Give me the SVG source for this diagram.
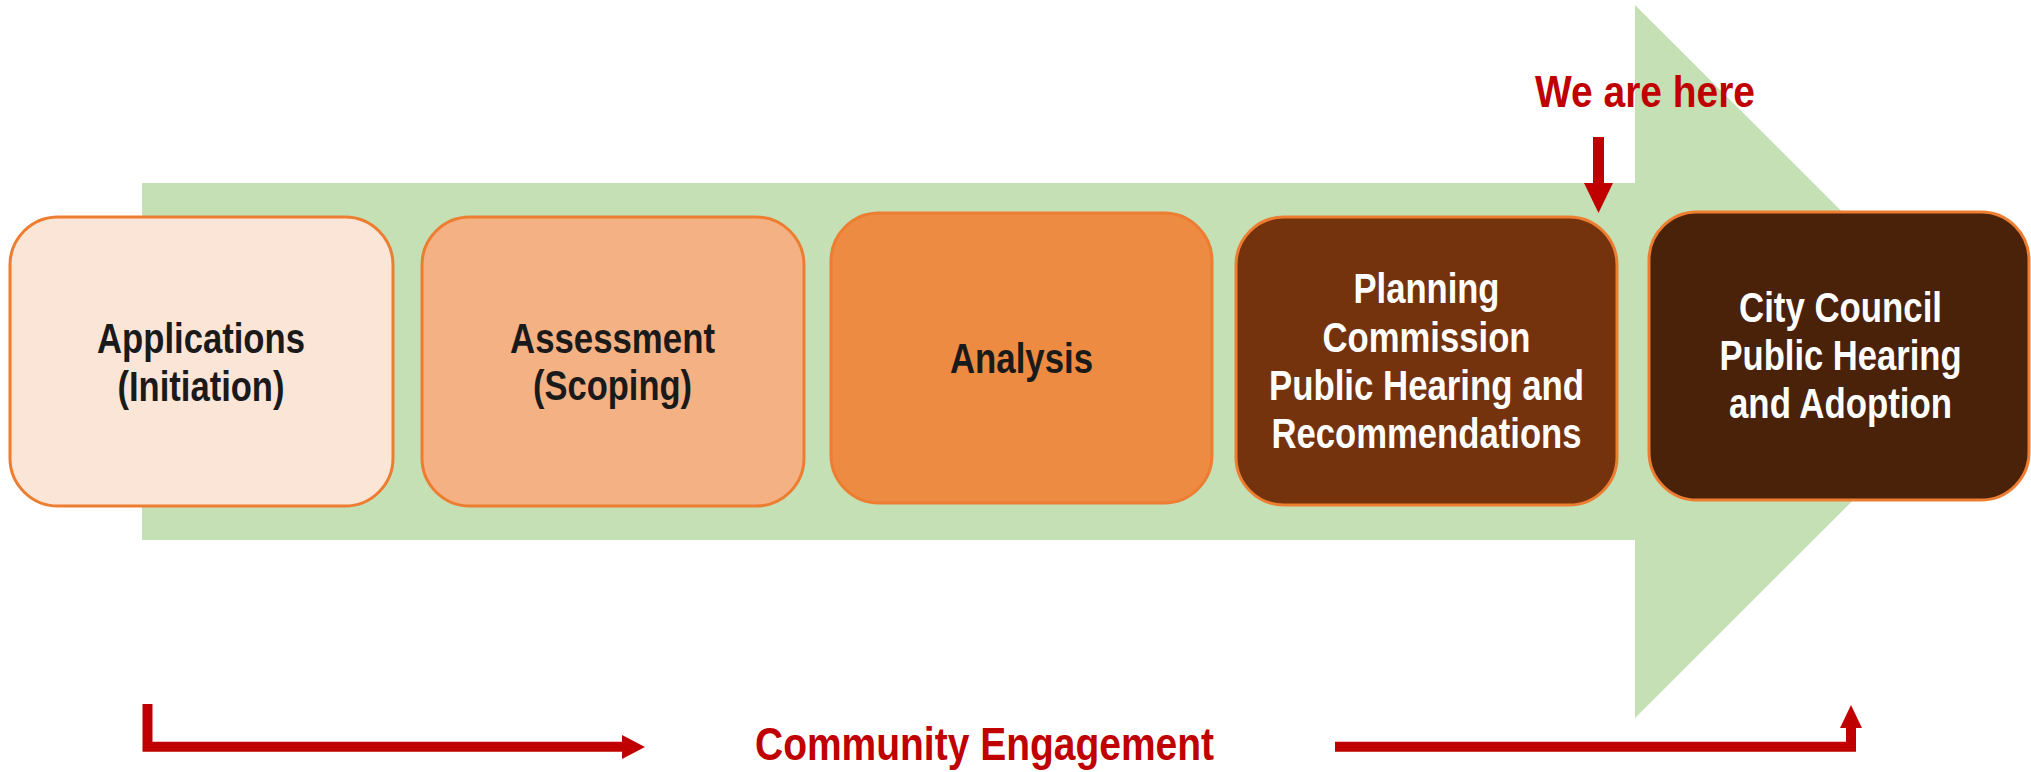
<svg xmlns="http://www.w3.org/2000/svg" width="2031" height="772" viewBox="0 0 2031 772">
  <style>
    .step { stroke: #ED7D31; stroke-width: 3; }
    .lbl { font-family: "Liberation Sans Narrow", "Liberation Sans", Arial, sans-serif; font-weight: bold; font-size: 42px; text-anchor: middle; }
    .dark { fill: #1A1A1A; }
    .light { fill: #FFFFFF; }
    .red { fill: #C00000; font-family: "Liberation Sans Narrow", "Liberation Sans", Arial, sans-serif; font-weight: bold; text-anchor: middle; }
    .flow { fill: none; stroke: #C00000; stroke-width: 10; stroke-linejoin: miter; }
  </style>

  <!-- big background process arrow -->
  <polygon id="process-arrow" points="142,183 1635,183 1635,5 1992,361.5 1635,718 1635,540 142,540" fill="#C5E0B4"/>

  <g id="step-applications">
    <rect class="step" x="10" y="217" width="383" height="289" rx="48" fill="#FBE5D6"/>
    <text class="lbl dark" x="201" y="353" textLength="208" lengthAdjust="spacingAndGlyphs">Applications</text>
    <text class="lbl dark" x="201" y="401" textLength="167" lengthAdjust="spacingAndGlyphs">(Initiation)</text>
  </g>

  <g id="step-assessment">
    <rect class="step" x="422" y="217" width="382" height="289" rx="48" fill="#F4B183"/>
    <text class="lbl dark" x="612.5" y="353" textLength="205" lengthAdjust="spacingAndGlyphs">Assessment</text>
    <text class="lbl dark" x="612.5" y="400" textLength="159" lengthAdjust="spacingAndGlyphs">(Scoping)</text>
  </g>

  <g id="step-analysis">
    <rect class="step" x="831" y="213" width="381" height="290" rx="48" fill="#ED8B43"/>
    <text class="lbl dark" x="1021.5" y="373" textLength="143" lengthAdjust="spacingAndGlyphs">Analysis</text>
  </g>

  <g id="step-planning-commission">
    <rect class="step" x="1236" y="217" width="381" height="288" rx="48" fill="#74330D"/>
    <text class="lbl light" x="1426.5" y="303" textLength="146" lengthAdjust="spacingAndGlyphs">Planning</text>
    <text class="lbl light" x="1426.5" y="352" textLength="208" lengthAdjust="spacingAndGlyphs">Commission</text>
    <text class="lbl light" x="1426.5" y="400" textLength="315" lengthAdjust="spacingAndGlyphs">Public Hearing and</text>
    <text class="lbl light" x="1426.5" y="448" textLength="310" lengthAdjust="spacingAndGlyphs">Recommendations</text>
  </g>

  <g id="step-city-council">
    <rect class="step" x="1649" y="212" width="380" height="288" rx="48" fill="#4A2109"/>
    <text class="lbl light" x="1840.5" y="322" textLength="203" lengthAdjust="spacingAndGlyphs">City Council</text>
    <text class="lbl light" x="1840.5" y="370" textLength="242" lengthAdjust="spacingAndGlyphs">Public Hearing</text>
    <text class="lbl light" x="1840.5" y="418" textLength="223" lengthAdjust="spacingAndGlyphs">and Adoption</text>
  </g>

  <g id="marker-we-are-here">
    <text class="red" x="1645" y="107" font-size="45" textLength="220" lengthAdjust="spacingAndGlyphs">We are here</text>
    <rect x="1593" y="137" width="11" height="47" fill="#C00000"/>
    <polygon points="1584,183 1613,183 1598.5,213" fill="#C00000"/>
  </g>

  <g id="community-engagement">
    <text class="red" x="984.5" y="760" font-size="47" textLength="459" lengthAdjust="spacingAndGlyphs">Community Engagement</text>
  </g>

  <g id="connectors">
    <path class="flow" d="M147.5,704 V746.7 H623"/>
    <polygon points="622,735 622,759 645,747" fill="#C00000"/>
    <path class="flow" d="M1335,746.7 H1851 V726"/>
    <polygon points="1840,728 1862,728 1851,705" fill="#C00000"/>
  </g>
</svg>
